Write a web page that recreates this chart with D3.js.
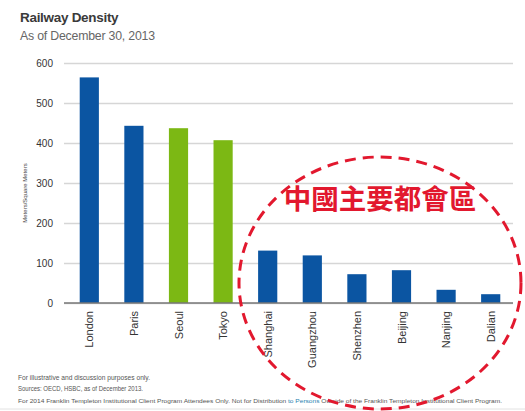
<!DOCTYPE html>
<html>
<head>
<meta charset="utf-8">
<script src="https://cdn.jsdelivr.net/npm/d3@7/dist/d3.min.js"></script>
<style>
  html, body { margin: 0; padding: 0; background: #fff; }
  svg { display: block; font-family: "Liberation Sans", Arial, sans-serif; }
</style>
</head>
<body>
<svg id="chart" width="525" height="411"></svg>
<script>
// Railway density by city (meters of track per square meter)
const cities = ["London", "Paris", "Seoul", "Tokyo", "Shanghai", "Guangzhou", "Shenzhen", "Beijing", "Nanjing", "Dalian"];
const density = [564, 443, 437, 407, 131, 119, 72, 82, 33, 22];
const groups = ["other", "other", "asia", "asia", "china", "china", "china", "china", "china", "china"];
const yTicks = [0, 100, 200, 300, 400, 500, 600];
const notes = [
  "For illustrative and discussion purposes only.",
  "Sources: OECD, HSBC, as of December 2013."
];

const svg = d3.select("#chart");
const W = 525, H = 411;

const x = d3.scaleBand().domain(cities).range([67, 513]).paddingInner(0.57).paddingOuter(0.285);
const y = d3.scaleLinear().domain([0, 600]).range([303, 63]);
const color = d3.scaleOrdinal().domain(["other", "asia", "china"]).range(["#0b55a2", "#7cb814", "#0b55a2"]);

// Title
svg.append("text").attr("x", 20).attr("y", 22)
  .attr("font-size", 13.5).attr("font-weight", "bold").attr("fill", "#3a3a3a")
  .attr("letter-spacing", -0.3)
  .text("Railway Density");
svg.append("text").attr("x", 20).attr("y", 40)
  .attr("font-size", 12.3).attr("fill", "#666")
  .attr("letter-spacing", -0.2)
  .text("As of December 30, 2013");

// Gridlines and y-axis labels
const yAxis = d3.axisLeft(y).tickValues(yTicks).tickSize(-(513 - 64)).tickPadding(11);
const gy = svg.append("g").attr("transform", "translate(64,0)").call(yAxis);
gy.select(".domain").remove();
gy.selectAll(".tick line").attr("stroke", "#d6d6d6").attr("stroke-width", 1.5);
gy.selectAll(".tick text").attr("font-size", 10).attr("fill", "#333")
  .attr("font-family", "'Liberation Sans Narrow', 'Liberation Sans', sans-serif");

// Y-axis title
svg.append("text")
  .attr("transform", "translate(27," + y(275) + ") rotate(-90)")
  .attr("text-anchor", "middle").attr("font-size", 6).attr("fill", "#444")
  .text("Meters/Square Meters");

// Bars
svg.append("g").selectAll("rect").data(cities).join("rect")
  .attr("x", d => x(d))
  .attr("width", x.bandwidth())
  .attr("y", (d, i) => y(density[i]))
  .attr("height", (d, i) => y(0) - y(density[i]))
  .attr("fill", (d, i) => color(groups[i]));

// Baseline
svg.append("line").attr("x1", 64).attr("x2", 513).attr("y1", y(0)).attr("y2", y(0))
  .attr("stroke", "#777").attr("stroke-width", 1.5);

// Category labels
svg.append("g").selectAll("text").data(cities).join("text")
  .attr("transform", d => "translate(" + (x(d) + x.bandwidth() / 2 + 4) + "," + (y(0) + 8) + ") rotate(-90)")
  .attr("text-anchor", "end").attr("font-size", 11).attr("fill", "#333")
  .text(d => d);

// Footnotes
svg.append("g").selectAll("text").data(notes).join("text")
  .attr("x", 18).attr("y", (d, i) => 380 + i * 10.5)
  .attr("font-size", 6.5).attr("fill", "#555")
  .attr("textLength", (d, i) => [132, 125][i]).attr("lengthAdjust", "spacingAndGlyphs")
  .text(d => d);
const last = svg.append("text").attr("x", 18).attr("y", 403)
  .attr("font-size", 6).attr("fill", "#555")
  .attr("textLength", 484).attr("lengthAdjust", "spacingAndGlyphs");
last.append("tspan").text("For 2014 Franklin Templeton Institutional Client Program Attendees Only. Not for Distribution ");
last.append("tspan").attr("fill", "#2a7fb0").text("to Persons ");
last.append("tspan").text("Outside of the Franklin Templeton Institutional Client Program.");

// Bottom rule
svg.append("line").attr("x1", 0).attr("x2", W).attr("y1", 409).attr("y2", 409)
  .attr("stroke", "#e2e2e2").attr("stroke-width", 1);

// Highlight ring around the Chinese cities
svg.append("ellipse")
  .attr("cx", 380).attr("cy", 283).attr("rx", 141).attr("ry", 126)
  .attr("fill", "none").attr("stroke", "#e2182e").attr("stroke-width", 3)
  .attr("stroke-dasharray", "11,7");

svg.append("text")
  .attr("x", 380).attr("y", 209)
  .attr("text-anchor", "middle")
  .attr("font-family", "'Noto Sans CJK TC', 'Noto Sans CJK SC', sans-serif")
  .attr("font-size", 27.5).attr("font-weight", "bold").attr("fill", "#e2182e")
  .text("中國主要都會區");
</script>
</body>
</html>
